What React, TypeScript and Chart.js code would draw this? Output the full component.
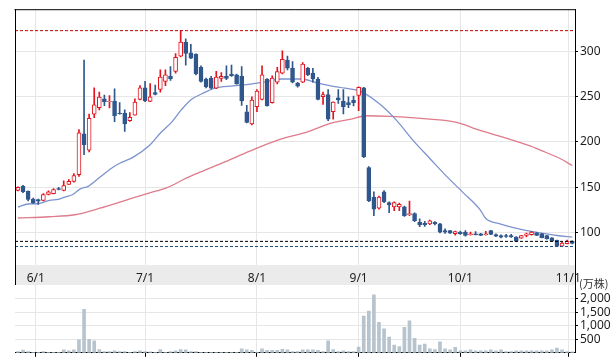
import React, { useEffect, useRef } from 'react';
import { Chart, registerables } from 'chart.js';
Chart.register(...registerables);

// ---- data (trading-day index 0 = 5/27) ----
const opens = [146.5,151,145.5,137,136.5,135.5,142,142.8,148.5,146.4,153,156.5,163.8,209,191,230.8,238,247.8,244.2,245.3,232,231.8,223.6,229.7,247,259.8,244.9,254.5,258,267,272.5,278,294.9,310.5,298.6,297,282.6,269.6,270.7,259.4,270.3,272.5,275,274.3,272.5,233.4,219.9,239.1,247,269.6,243.5,266,276.1,290.6,281.5,265.2,266,281.5,276.1,269.6,250,252.5,233.4,248.9,245.3,243.5,246,251.4,259.8,171.7,139.1,126.8,144.9,133,128.3,128.3,128.3,119.6,121,111.2,110.1,109.6,111.2,109.6,102.2,102.2,98.6,100.4,100.4,97.5,98.6,98.6,97.5,102.2,97.8,96.7,96.7,96.7,94.9,93.8,96.7,97.5,99.6,98.6,96.7,94.2,91.3,84.8,87.7,90.5];
const highs = [150.5,152,146,138,137,143,146,148.5,150,157,158.5,165,213.6,290.5,230.8,259.8,255,251.8,251.4,258.7,243.5,235.5,232.6,247.8,262.3,267,264.5,263,279.7,279.7,283.4,297.8,323,314,308,297.5,284,270.7,272.5,278,276.8,284,285,275,283.4,240.5,250,258,284,270,273.2,282.6,300.8,294.9,288.8,266,287.7,282.6,281.5,271.4,255,258,244.5,258,258,250,250.8,261,260.5,172.8,144.9,140.2,146.4,134,134,132.6,129.3,134.8,121.7,115,112.3,113.8,112,110,104,102.5,101.5,101.5,102.2,100.4,101,99,101.4,102.5,98.5,97.5,98,98,95.5,97,99.5,101.4,100,99,97,94.5,91.5,89.5,91.5,90.8];
const lows = [146,144,135,132,131,135,141.5,142.5,147,146,153,155.5,162,186,189,227,235.5,240,237.6,222.5,230.8,211.6,222.8,229.5,246.4,244.6,244.5,252,255,262.3,268,276,294,285,292,274,266,259.8,258.7,259,267,268.8,272.5,264,240.5,221,218.8,233.4,246.5,239.5,243,264.1,275.3,279.7,265.2,260.5,265.5,273.2,266,246.4,241.6,223.6,225.3,242.7,231,238,239.9,234.5,182.6,134,118.5,125.8,133,122,124,124,117.7,118.5,112,106.5,106.8,108.7,108.5,99.5,99,99,97,98,96,97,97.3,96.5,97,97.5,95.5,94,94.5,94.5,90,93.5,95,97,96.5,94,92.5,90,84.5,84.6,87.5,87.5];
const closes = [150,145,136.5,133,134.5,142,145,147.5,147.5,151.8,156.5,163,210,197,226,241,249.7,244.2,245.3,229,231,219.9,227.2,244.2,259.8,245.3,250,252.5,271.7,274.3,270,293.5,310.5,297.8,292.5,275.3,267,260.9,259.4,271.7,272.5,270.3,273.2,264.5,245.3,221.7,246.4,256.2,274.3,239.9,270.7,277.9,291.3,281.5,266,261.6,286.2,274.3,269.6,247,252.5,225.3,244.2,246.4,239.1,241.3,243.5,260.5,183.7,134.8,125.8,139.1,134,130.4,133,131.2,118.5,121,113,108.7,108.7,113,109.6,100.4,100.4,99.3,100.9,98.6,96.7,98.6,97.3,96.7,98.6,97.8,96,94.9,95.6,95,90.5,96.7,98.6,100.4,96.7,94.2,93,90.5,84.8,88.4,90.5,88];
const volumes = [45,100,45,15,15,45,15,20,15,107,70,107,476,1607,500,440,120,48,48,71,48,48,15,48,71,48,36,20,120,20,48,71,120,107,48,48,15,15,15,15,15,15,15,15,143,107,95,20,143,95,95,95,131,107,48,48,107,107,107,90,48,440,120,48,71,48,48,214,1357,1535,2142,1119,881,583,286,226,940,1178,536,286,321,143,120,405,143,107,202,71,71,107,71,71,71,107,71,107,48,48,71,71,71,71,71,71,71,107,178,107,48,36];

// moving averages (index, value)
const maShortIdx = [0,2,4,6.2,7.9,9.2,10.8,12.2,13.8,16.1,18.4,20,22.6,25.9,28.2,30.2,32.2,34.1,36.1,38.7,42.3,45.3,48.6,51.8,55.8,58.4,61.3,64.3,67.3,71.2,74.5,77.7,81,84.3,87.6,90.9,92,94.8,99.4,102.7,106,109];
const maShortVal = [128,131.5,132,135.5,136.6,139,142,148,151,161,171,176.5,183,196.4,211,221.7,236,247,253,259.5,262,263.6,266.5,269.6,269.6,266,262.3,259.5,256.2,241.6,223.6,201.8,181.8,162,143.8,125,115.5,109.6,103,99.7,96.7,94.9];
const maLongIdx = [0,6.2,11.2,16.1,20.7,25.9,29.2,33.1,35.8,40.7,45.6,51.5,56.8,61.3,65.3,68.6,73.2,81,86.3,90.9,95.4,100.7,102.7,106.6,109];
const maLongVal = [116,117.4,119.6,126.8,134.8,143.8,149.3,160,166.6,178,190,203,210.9,220.3,225,229,228.3,225.3,221.7,212.7,205.4,195.7,191,181.8,174];

const monthLabels = ['6/1', '7/1', '8/1', '9/1', '10/1', '11/1'];
const monthPositions = [3.5, 25, 47, 67, 87, 108.25];
const priceTicks = [100, 150, 200, 250, 300];
const volumeTicks = [500, 1000, 1500, 2000];
const periodHigh = 323;
const periodLow = 84.5;
const lastPrice = 90.2;

const X_MIN = -0.58;
const X_MAX = 109.55;
const PRICE_MIN = 64.1;
const PRICE_MAX = 346.7;
const VOL_MAX = 2500;

const UP = '#e3141e';
const DOWN = '#30578c';
const GRID = '#e6e6e6';
const TXT = '#1e1e1e';
const FONT = { family: '"Noto Sans", "Noto Sans CJK JP", sans-serif', size: 12 };

export default function App() {
  const mainRef = useRef<HTMLCanvasElement>(null);
  const volRef = useRef<HTMLCanvasElement>(null);

  useEffect(() => {
    const idx = opens.map((_, i) => i);
    const up = (i: number) => closes[i] >= opens[i];

    const mainDecor = {
      id: 'mainDecor',
      beforeDraw(chart: any) {
        const { ctx, chartArea } = chart;
        ctx.save();
        ctx.fillStyle = '#ebebeb';
        ctx.fillRect(chartArea.left, chartArea.bottom, chartArea.right - chartArea.left, 20);
        ctx.restore();
      },
      afterDraw(chart: any) {
        const { ctx, chartArea } = chart;
        ctx.save();
        ctx.strokeStyle = '#000';
        ctx.lineWidth = 1;
        ctx.beginPath();
        ctx.moveTo(chartArea.left - 0.5, chartArea.top + 0.5);
        ctx.lineTo(chartArea.right, chartArea.top + 0.5);
        ctx.moveTo(chartArea.left + 0.5, chartArea.top);
        ctx.lineTo(chartArea.left + 0.5, chartArea.bottom + 20);
        ctx.moveTo(Math.round(chartArea.right) + 0.5, chartArea.bottom);
        ctx.lineTo(Math.round(chartArea.right) + 0.5, chartArea.bottom + 20);
        ctx.stroke();
        ctx.restore();
      },
    };

    const hline = (v: number, color: string) => ({
      type: 'line',
      data: [{ x: X_MIN, y: v }, { x: X_MAX, y: v }],
      borderColor: color,
      borderWidth: 1,
      borderDash: [3, 2],
      pointRadius: 0,
      order: -1,
    });

    const main = new Chart(mainRef.current!, {
      type: 'bar',
      data: {
        datasets: [
          {
            data: idx.map((i) => ({ x: i, y: [opens[i], closes[i]] })),
            backgroundColor: idx.map((i) => (up(i) ? '#ffffff' : DOWN)),
            borderColor: idx.map((i) => (up(i) ? UP : DOWN)),
            borderWidth: 1,
            borderSkipped: false,
            barThickness: 4,
            grouped: false,
            order: 0,
          } as any,
          {
            data: idx.map((i) => ({ x: i, y: [lows[i], highs[i]] })),
            backgroundColor: idx.map((i) => (up(i) ? UP : DOWN)),
            borderWidth: 0,
            barThickness: 1,
            grouped: false,
            order: 1,
          } as any,
          {
            type: 'line',
            data: maShortIdx.map((x, k) => ({ x, y: maShortVal[k] })),
            borderColor: '#7b93cf',
            borderWidth: 1.3,
            pointRadius: 0,
            cubicInterpolationMode: 'monotone',
            order: 2,
          } as any,
          {
            type: 'line',
            data: maLongIdx.map((x, k) => ({ x, y: maLongVal[k] })),
            borderColor: '#df7b8b',
            borderWidth: 1.3,
            pointRadius: 0,
            cubicInterpolationMode: 'monotone',
            order: 2,
          } as any,
          hline(periodHigh, '#c00000') as any,
          hline(lastPrice, '#000000') as any,
          hline(periodLow, '#1f4e79') as any,
        ],
      },
      options: {
        animation: false,
        responsive: false,
        events: [],
        layout: { padding: { left: 15, top: 5, right: 0, bottom: 0 } },
        plugins: { legend: { display: false }, tooltip: { enabled: false } },
        scales: {
          x: {
            type: 'linear',
            min: X_MIN,
            max: X_MAX,
            offset: false,
            grid: { color: GRID, drawTicks: false, offset: false },
            border: { display: false },
            afterBuildTicks: (s: any) => {
              s.ticks = monthPositions.map((v) => ({ value: v }));
            },
            ticks: {
              autoSkip: false,
              maxRotation: 0,
              padding: 6,
              font: FONT,
              color: TXT,
              callback: (v: any) => monthLabels[monthPositions.indexOf(Number(v))],
            },
            afterFit: (s: any) => {
              s.height = 20;
            },
          },
          y: {
            type: 'linear',
            position: 'right',
            min: PRICE_MIN,
            max: PRICE_MAX,
            grid: { color: GRID, tickLength: 3, tickColor: '#000' },
            border: { display: true, color: '#000' },
            afterBuildTicks: (s: any) => {
              s.ticks = priceTicks.map((v) => ({ value: v }));
            },
            ticks: { padding: 2, font: FONT, color: TXT },
            afterFit: (s: any) => {
              s.width = 41;
            },
          },
        },
      } as any,
      plugins: [mainDecor],
    });

    const volDecor = {
      id: 'volDecor',
      afterDraw(chart: any) {
        const { ctx, chartArea } = chart;
        ctx.save();
        ctx.fillStyle = '#333';
        ctx.font = '11px "Noto Sans CJK JP", sans-serif';
        ctx.textBaseline = 'middle';
        ctx.textAlign = 'left';
        ctx.fillText('(万株)', chartArea.right + 4, chartArea.top - 1);
        ctx.restore();
      },
    };

    const vol = new Chart(volRef.current!, {
      type: 'bar',
      data: {
        datasets: [
          {
            data: idx.map((i) => ({ x: i, y: volumes[i] })),
            backgroundColor: '#b7c4ce',
            borderWidth: 0,
            barThickness: 3,
            grouped: false,
          } as any,
        ],
      },
      options: {
        animation: false,
        responsive: false,
        events: [],
        layout: { padding: { left: 15, top: 13, right: 0, bottom: 0 } },
        plugins: { legend: { display: false }, tooltip: { enabled: false } },
        scales: {
          x: {
            type: 'linear',
            min: X_MIN,
            max: X_MAX,
            offset: false,
            grid: { color: GRID, tickLength: 4, tickColor: '#000', offset: false },
            border: { display: true, color: '#000' },
            afterBuildTicks: (s: any) => {
              s.ticks = monthPositions.map((v) => ({ value: v }));
            },
            ticks: { display: false },
            afterFit: (s: any) => {
              s.height = 8;
            },
          },
          y: {
            type: 'linear',
            position: 'right',
            min: 0,
            max: VOL_MAX,
            grid: { color: GRID, tickLength: 3, tickColor: '#000' },
            border: { display: true, color: '#000' },
            afterBuildTicks: (s: any) => {
              s.ticks = volumeTicks.map((v) => ({ value: v }));
            },
            ticks: {
              padding: 2,
              font: FONT,
              color: TXT,
              callback: (v: any) => Number(v).toLocaleString('en-US'),
            },
            afterFit: (s: any) => {
              s.width = 41;
            },
          },
        },
      } as any,
      plugins: [volDecor],
    });

    return () => {
      main.destroy();
      vol.destroy();
    };
  }, []);

  return (
    <div style={{ position: 'absolute', left: 0, top: 0, width: 616, height: 362, background: '#fff' }}>
      <canvas ref={mainRef} width={616} height={285} style={{ position: 'absolute', left: 0, top: 0, width: 616, height: 285 }} />
      <canvas ref={volRef} width={616} height={90} style={{ position: 'absolute', left: 0, top: 272, width: 616, height: 90 }} />
    </div>
  );
}
